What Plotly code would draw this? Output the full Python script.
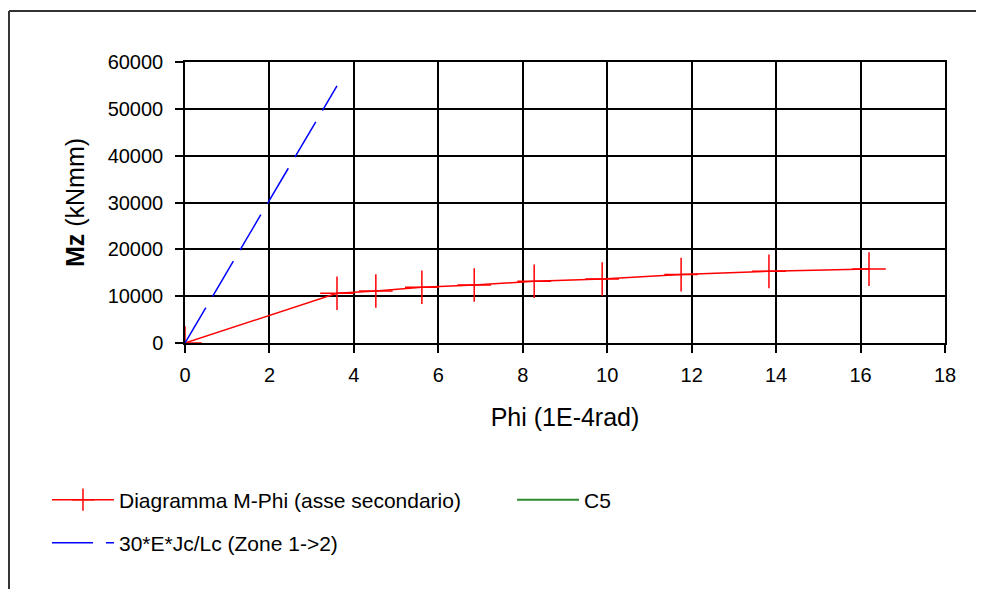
import plotly.graph_objects as go

# Data
phi_mphi = [0, 3.60, 4.52, 5.61, 6.85, 8.27, 9.88, 11.75, 13.83, 16.20]
mz_mphi = [0, 10620, 11100, 11900, 12390, 13180, 13680, 14600, 15300, 15780]

phi_zone = [0, 3.60]
mz_zone = [0, 54900]

phi_c5 = [None]
mz_c5 = [None]

x_ticks = [0, 2, 4, 6, 8, 10, 12, 14, 16, 18]
y_ticks = [0, 10000, 20000, 30000, 40000, 50000, 60000]

FONT = "Liberation Sans, Arial, sans-serif"

fig = go.Figure()
fig.add_trace(go.Scatter(
    x=phi_mphi, y=mz_mphi, name="Diagramma M-Phi (asse secondario)",
    mode="lines+markers", showlegend=True,
    line=dict(color="#ff0000", width=1.5),
    marker=dict(symbol="cross-thin-open", size=24, color="#ff0000",
                line=dict(width=1.5, color="#ff0000")),
    legend="legend",
))
fig.add_trace(go.Scatter(
    x=phi_c5, y=mz_c5, name="C5", mode="lines", showlegend=True,
    line=dict(color="#2e8b2e", width=2),
    legend="legend3",
))
fig.add_trace(go.Scatter(
    x=phi_zone, y=mz_zone, name="30*E*Jc/Lc (Zone 1->2)", mode="lines", showlegend=True,
    line=dict(color="#0000ff", width=1.5, dash="41px,13px"),
    legend="legend2",
))

axis_common = dict(
    showgrid=True, gridcolor="black", gridwidth=1.5,
    showline=True, linecolor="black", linewidth=1.5, mirror=True,
    ticks="outside", ticklen=8, tickcolor="black", tickwidth=1.5,
    tickfont=dict(family=FONT, size=20, color="black"),
    zeroline=False,
)

legend_common = dict(orientation="h", xanchor="left", yanchor="middle",
                     font=dict(size=21, family=FONT, color="black"),
                     bgcolor="rgba(0,0,0,0)", itemwidth=62, visible=True)

fig.update_layout(
    width=984, height=589, autosize=False, showlegend=True,
    margin=dict(l=177, r=47, t=54, b=254),
    paper_bgcolor="white", plot_bgcolor="white",
    font=dict(family=FONT, color="black"),
    xaxis=dict(range=[0, 18], tickvals=x_ticks, ticklabelstandoff=5,
               title=dict(text="Phi (1E-4rad)", font=dict(size=25, family=FONT), standoff=24),
               **axis_common),
    yaxis=dict(range=[0, 60000], tickvals=y_ticks, tickformat="d", ticklabelstandoff=8,
               title=dict(text="<b>Mz</b> (kNmm)", font=dict(size=25, family=FONT), standoff=16),
               **axis_common),
    legend=dict(x=-0.1816, y=-0.5587, **legend_common),
    legend3=dict(x=0.4303, y=-0.5587, **legend_common),
    legend2=dict(x=-0.1816, y=-0.7117, **legend_common),
    shapes=[
        dict(type="line", xref="paper", yref="paper", x0=-0.2316, x1=1.07, y0=1.1815, y1=1.1815,
             line=dict(color="#333333", width=2)),
        dict(type="line", xref="paper", yref="paper", x0=-0.2316, x1=-0.2316, y0=1.1815, y1=-0.92,
             line=dict(color="#333333", width=2)),
    ],
)

fig.write_html("out.html")
